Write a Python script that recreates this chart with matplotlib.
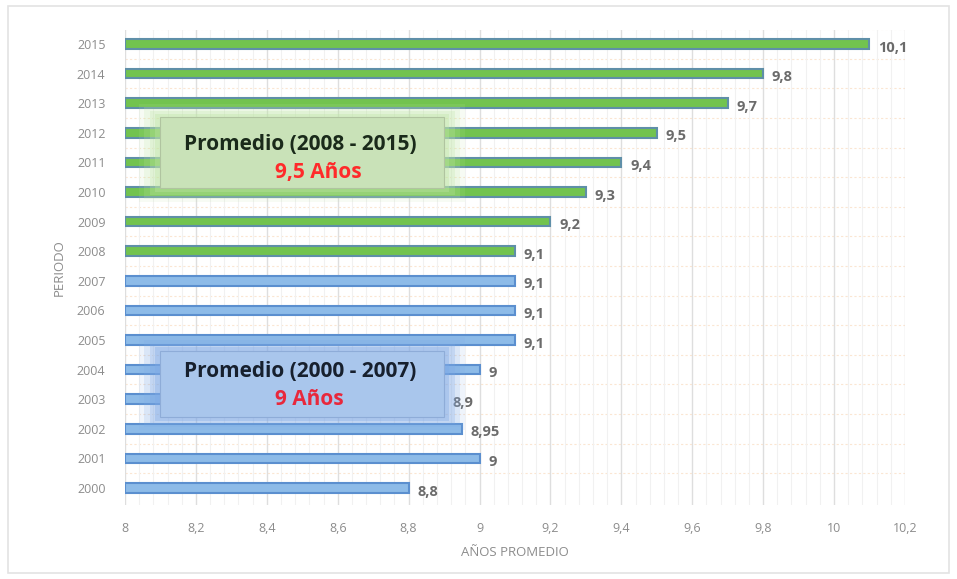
import matplotlib
matplotlib.use("Agg")
import matplotlib.pyplot as plt
from matplotlib.patches import Rectangle
from matplotlib.ticker import MultipleLocator

years = ["2000", "2001", "2002", "2003", "2004", "2005", "2006", "2007",
         "2008", "2009", "2010", "2011", "2012", "2013", "2014", "2015"]
values = [8.8, 9.0, 8.95, 8.9, 9.0, 9.1, 9.1, 9.1,
          9.1, 9.2, 9.3, 9.4, 9.5, 9.7, 9.8, 10.1]
value_labels = ["8,8", "9", "8,95", "8,9", "9", "9,1", "9,1", "9,1",
                "9,1", "9,2", "9,3", "9,4", "9,5", "9,7", "9,8", "10,1"]
x_ticks = [8, 8.2, 8.4, 8.6, 8.8, 9, 9.2, 9.4, 9.6, 9.8, 10, 10.2]
x_tick_labels = ["8", "8,2", "8,4", "8,6", "8,8", "9", "9,2", "9,4", "9,6", "9,8", "10", "10,2"]
box_titles = ["Promedio (2008 - 2015)", "Promedio (2000 - 2007)"]
box_values = ["9,5 Años", "9 Años"]

plt.rcParams['font.family'] = ['Open Sans', 'DejaVu Sans']

fig = plt.figure(figsize=(9.57, 5.79), dpi=100)
fig.patch.set_facecolor('white')
fig.add_artist(Rectangle((0.008, 0.01), 0.984, 0.98, transform=fig.transFigure,
                         fill=False, edgecolor='#e3e3e3', lw=1.2))

ax = fig.add_axes([0.1306, 0.128, 0.815, 0.82])
ypos = list(range(len(years)))
green_face, green_edge = '#72c34f', '#5f8fa8'
blue_face, blue_edge = '#8dbbe8', '#5b8fcf'
faces = [blue_face if int(y) < 2008 else green_face for y in years]
edges = [blue_edge if int(y) < 2008 else green_edge for y in years]

ax.barh(ypos, [v - 8 for v in values], left=8, height=0.32,
        color=faces, edgecolor=edges, linewidth=1.5, zorder=3)

for y, v, lab in zip(ypos, values, value_labels):
    ax.text(v + 0.025, y - 0.12, lab, va='center', ha='left', fontsize=10.5,
            fontweight='bold', color='#6b6b6b', zorder=4)

ax.set_xlim(8, 10.2)
ax.set_ylim(-0.57, 15.47)
ax.set_xticks(x_ticks)
ax.set_xticklabels(x_tick_labels)
ax.xaxis.set_minor_locator(MultipleLocator(0.04))
ax.set_yticks(ypos)
ax.set_yticklabels(years)
ax.tick_params(axis='both', which='both', length=0, labelsize=9, labelcolor='#8c8c8c')
ax.tick_params(axis='x', pad=12)
ax.tick_params(axis='y', pad=14)
ax.grid(axis='x', which='major', color='#dedede', lw=1.0, zorder=0)
ax.grid(axis='x', which='minor', color='#f1f1f1', lw=0.8, zorder=0)
for y in ypos:
    ax.axhline(y + 0.5, color='#fbe6d2', lw=0.8, ls=(0, (2, 2)), zorder=1)
for s in ax.spines.values():
    s.set_visible(False)
ax.set_xlabel("AÑOS PROMEDIO", fontsize=9.5, color='#8c8c8c', labelpad=8)
ax.set_ylabel("PERIODO", fontsize=9.5, color='#8c8c8c', labelpad=8)


def glow_box(xc, yc, w, h, face, glow, edge):
    for i, a in enumerate([0.12, 0.18, 0.25, 0.35]):
        pad_x = 0.06 - i * 0.015
        pad_y = 0.45 - i * 0.11
        ax.add_patch(Rectangle((xc - w / 2 - pad_x, yc - h / 2 - pad_y), w + 2 * pad_x, h + 2 * pad_y,
                               facecolor=glow, edgecolor='none', alpha=a, zorder=5))
    ax.add_patch(Rectangle((xc - w / 2, yc - h / 2), w, h, facecolor=face,
                           edgecolor=edge, lw=0.8, zorder=6))


glow_box(8.5, 11.32, 0.80, 2.4, '#c9e2b8', '#bfe6a6', '#b0c4a0')
glow_box(8.5, 3.52, 0.80, 2.25, '#a9c6ec', '#7fa9e6', '#8eacd8')

ax.text(8.495, 11.6, box_titles[0], ha='center', va='center', fontsize=15,
        fontweight='bold', color='#1a2a1a', zorder=7)
ax.text(8.545, 10.65, box_values[0], ha='center', va='center', fontsize=15,
        fontweight='bold', color='#ff2a2a', zorder=7)
ax.text(8.495, 3.95, box_titles[1], ha='center', va='center', fontsize=15,
        fontweight='bold', color='#17202e', zorder=7)
ax.text(8.52, 3.0, box_values[1], ha='center', va='center', fontsize=15,
        fontweight='bold', color='#e8283c', zorder=7)

fig.savefig("out.png", dpi=100, facecolor='white')
